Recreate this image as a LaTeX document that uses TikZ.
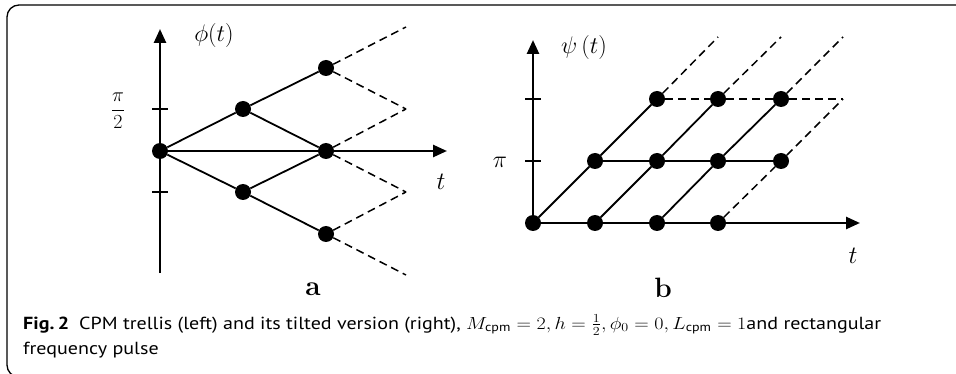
\RequirePackage{fix-cm}
\documentclass[tikz,border=0pt]{standalone}
\usepackage{amsmath}
\usepackage{fontspec}
\setsansfont{PT Sans}
\usetikzlibrary{arrows.meta}
\newsavebox{\capboxA}
\newsavebox{\capboxB}
\begin{document}
\sbox{\capboxA}{\sffamily\fontsize{17.5}{20}\selectfont\textbf{Fig.\,2}\enspace CPM trellis (left) and its tilted version (right), $M_{\textsf{cpm}}=2, h=\frac{1}{2}, \phi_0=0, L_{\textsf{cpm}}=1$and rectangular}%
\sbox{\capboxB}{\sffamily\fontsize{17.5}{20}\selectfont frequency pulse}%
\begin{tikzpicture}[x=1pt,y=-1pt,
  dot/.style={circle,fill=black,inner sep=0pt,minimum size=16pt},
  edge/.style={line width=1.8pt},
  dashedge/.style={line width=1.5pt,dash pattern=on 8pt off 5pt},
  axis/.style={line width=2.6pt,-{Triangle[length=14pt,width=12pt]}},
  tickmark/.style={line width=1.8pt},
  lab/.style={font=\fontsize{24}{28}\selectfont,inner sep=0pt},
  tlab/.style={font=\fontsize{25}{29}\selectfont,inner sep=0pt},
  fraclab/.style={font=\fontsize{20}{24}\selectfont,inner sep=0pt},
  sublab/.style={font=\fontsize{28}{32}\selectfont\bfseries,inner sep=0pt},
  capline/.style={inner sep=0pt,anchor=base west},
]
\useasboundingbox (0,0) rectangle (956,374);
% frame
\draw[line width=1.3pt,rounded corners=12pt] (960,5) -- (7,5) -- (7,377) -- (40,377);

% ---------- left panel ----------
\node[dot] (A0) at (160,151) {};
\node[dot] (A1u) at (243,109) {};
\node[dot] (A1d) at (243,192) {};
\node[dot] (A2u) at (326,68) {};
\node[dot] (A2m) at (326,151) {};
\node[dot] (A2d) at (326,234) {};
\coordinate (Ayb) at (160,273);
\coordinate (Ayt) at (160,29);
\coordinate (Axe) at (447,151);
\draw[axis] (Ayb) -- (Ayt);
\draw[axis] (A0.center) -- (Axe);
\draw[edge] (A0) -- (A1u) -- (A2u);
\draw[edge] (A1u) -- (A2m);
\draw[edge] (A0) -- (A1d) -- (A2d);
\draw[edge] (A1d) -- (A2m);
\coordinate (Ad1) at (406,27);
\coordinate (Ad2) at (406,109);
\coordinate (Ad3) at (406,192);
\coordinate (Ad4) at (406,275);
\draw[dashedge] (A2u) -- (Ad1);
\draw[dashedge] (A2u) -- (Ad2);
\draw[dashedge] (A2m) -- (Ad2);
\draw[dashedge] (A2m) -- (Ad3);
\draw[dashedge] (A2d) -- (Ad3);
\draw[dashedge] (A2d) -- (Ad4);
\coordinate (At1a) at (152,109); \coordinate (At1b) at (168,109);
\coordinate (At2a) at (152,192); \coordinate (At2b) at (168,192);
\draw[tickmark] (At1a) -- (At1b);
\draw[tickmark] (At2a) -- (At2b);
\node[fraclab] (Lpi2) at (118,111) {$\dfrac{\pi}{2}$};
\node[lab] (Lphi) at (214,36) {$\phi(t)$};
\node[tlab] (Lta) at (441,182) {$t$};
\node[sublab] (La) at (313,289) {a};

% ---------- right panel ----------
\node[dot] (B00) at (533,223) {};
\node[dot] (B01) at (595,223) {};
\node[dot] (B02) at (657,223) {};
\node[dot] (B03) at (718,223) {};
\node[dot] (B11) at (595,161) {};
\node[dot] (B12) at (657,161) {};
\node[dot] (B13) at (718,161) {};
\node[dot] (B14) at (781,161) {};
\node[dot] (B22) at (657,99) {};
\node[dot] (B23) at (718,99) {};
\node[dot] (B24) at (781,99) {};
\coordinate (Byt) at (533,40);
\coordinate (Bxe) at (860,223);
\draw[axis] (B00.center) -- (Byt);
\draw[axis] (B00.center) -- (Bxe);
\draw[edge] (B00) -- (B11) -- (B22);
\draw[edge] (B01) -- (B12) -- (B23);
\draw[edge] (B02) -- (B13) -- (B24);
\draw[edge] (B11) -- (B12) -- (B13) -- (B14);
\coordinate (Bd1) at (718,37);
\coordinate (Bd2) at (781,37);
\coordinate (Bd3) at (843,37);
\coordinate (Bd4) at (843,99);
\draw[dashedge] (B22) -- (Bd1);
\draw[dashedge] (B23) -- (Bd2);
\draw[dashedge] (B24) -- (Bd3);
\draw[dashedge] (B22) -- (B23);
\draw[dashedge] (B23) -- (B24);
\draw[dashedge] (B24) -- (Bd4);
\draw[dashedge] (B03) -- (B14);
\draw[dashedge] (B14) -- (Bd4);
\coordinate (Bt1a) at (525,99); \coordinate (Bt1b) at (541,99);
\coordinate (Bt2a) at (525,161); \coordinate (Bt2b) at (541,161);
\draw[tickmark] (Bt1a) -- (Bt1b);
\draw[tickmark] (Bt2a) -- (Bt2b);
\node[lab] (Lpi) at (500,162) {$\pi$};
\node[lab] (Lpsi) at (584,48) {$\psi\,(t)$};
\node[tlab] (Ltb) at (853,256) {$t$};
\node[sublab] (Lb) at (663,288) {b};

% ---------- caption ----------
\pgfmathsetmacro{\capscale}{858/\wd\capboxA}
\node[capline] (Cap1) at (23,329) {\scalebox{\capscale}[1]{\usebox{\capboxA}}};
\node[capline] (Cap2) at (23,354) {\scalebox{\capscale}[1]{\usebox{\capboxB}}};
\end{tikzpicture}
\end{document}
